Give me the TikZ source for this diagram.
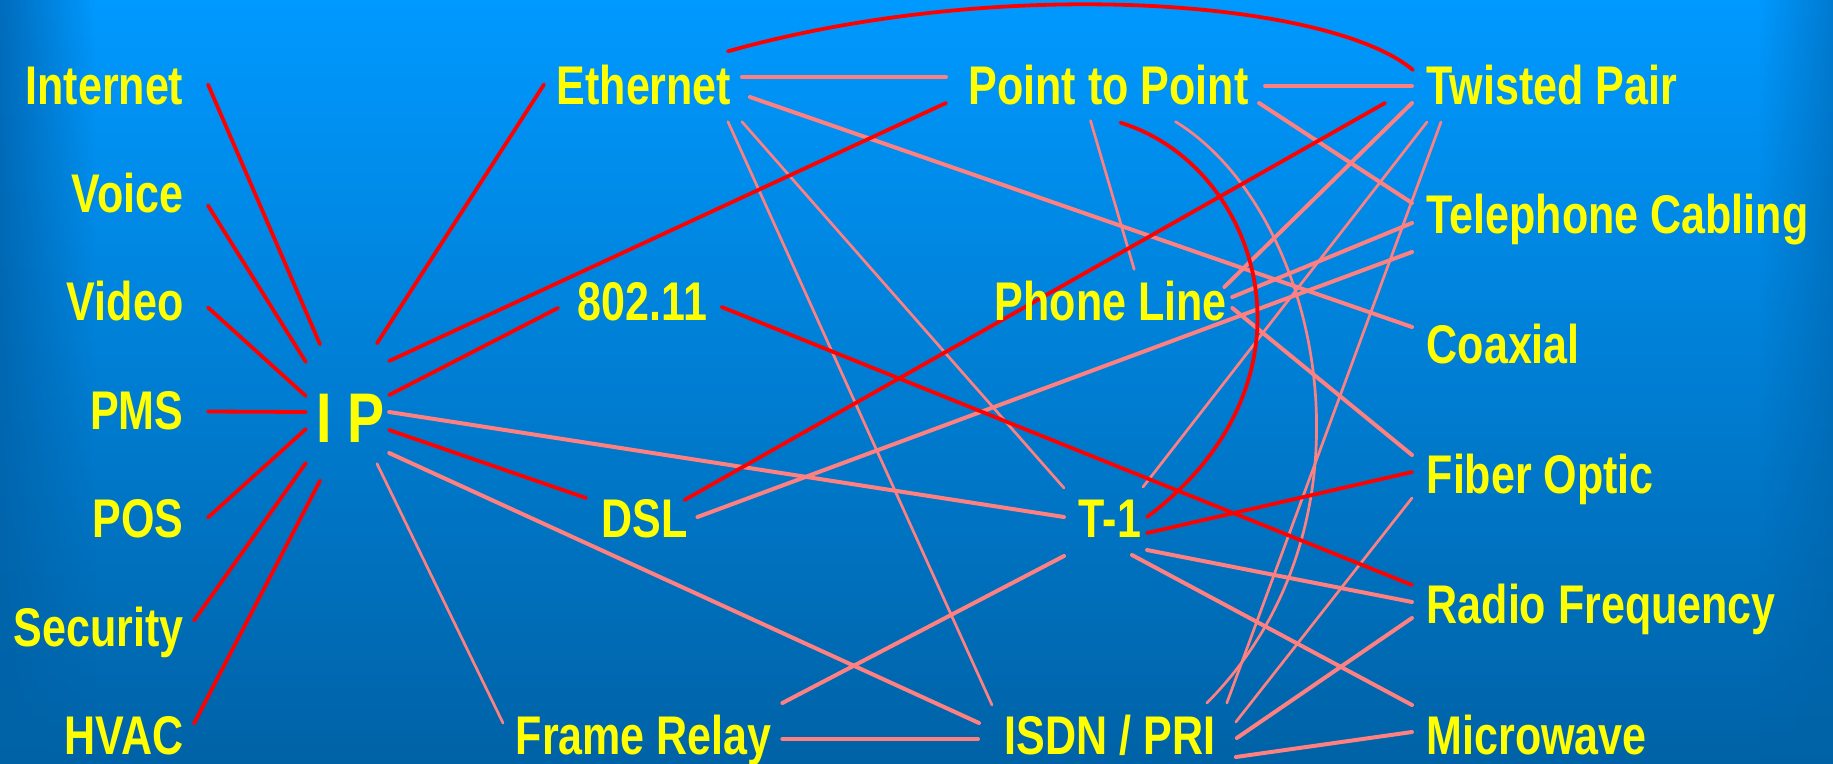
\documentclass[tikz,border=0pt]{standalone}
\usepackage{fontspec}
\setmainfont{Liberation Sans}[FakeStretch=0.79]
\usetikzlibrary{fadings}

\definecolor{bgtop}{RGB}{0,153,255}
\definecolor{bgbottom}{RGB}{0,98,166}
\definecolor{edgeleft}{RGB}{0,108,188}
\definecolor{edgeright}{RGB}{0,122,208}
\definecolor{linkred}{RGB}{255,0,0}
\definecolor{linkpink}{RGB}{255,128,128}
\definecolor{labelyellow}{RGB}{255,255,0}

\tikzfading[name=fadeleft, left color=transparent!0, right color=transparent!100]
\tikzfading[name=faderight, left color=transparent!100, right color=transparent!0]

\pgfdeclarelayer{front}
\pgfsetlayers{main,front}

\begin{document}
\begin{tikzpicture}[x=0.1mm, y=-0.1mm,
  lbl/.style={text=labelyellow, font=\fontsize{15.5pt}{18pt}\selectfont\bfseries,
    inner sep=0pt, text height=3.9mm, text depth=0pt},
  hub/.style={lbl, font=\fontsize{20pt}{24pt}\selectfont\bfseries, text height=5mm},
  redlink/.style={draw=linkred, line width=0.38mm, line cap=round},
  pinkthick/.style={draw=linkpink, line width=0.4mm, line cap=round},
  pinkthin/.style={draw=linkpink, line width=0.27mm, line cap=round}]

% Slide background
\useasboundingbox (0,0) rectangle (1833,764);
\shade[top color=bgtop, bottom color=bgbottom] (0,0) rectangle (1833,764);
\shade[top color=edgeleft, bottom color=bgbottom, path fading=fadeleft] (0,0) rectangle (95,764);
\shade[top color=edgeright, bottom color=bgbottom, path fading=faderight] (1758,0) rectangle (1833,764);

\begin{pgfonlayer}{front}
% Services
\node[lbl, anchor=base east] (Internet) at (184,104) {Internet};
\node[lbl, anchor=base east] (Voice) at (184,212) {Voice};
\node[lbl, anchor=base east] (Video) at (184,320) {Video};
\node[lbl, anchor=base east] (PMS) at (184,429) {PMS};
\node[lbl, anchor=base east] (POS) at (184,537) {POS};
\node[lbl, anchor=base east] (Security) at (184,646) {Security};
\node[lbl, anchor=base east] (HVAC) at (184,754) {HVAC};

\node[hub] (IP) at (350.5,417) {I P};

% Links
\node[lbl, anchor=base west] (Ethernet) at (556,104) {Ethernet};
\node[lbl, anchor=base west] (WLAN) at (577,320) {802.11};
\node[lbl, anchor=base west] (DSL) at (601,537) {DSL};
\node[lbl, anchor=base west] (Frame) at (515,754) {Frame Relay};
\node[lbl, anchor=base west] (PtP) at (968,104) {Point to Point};
\node[lbl, anchor=base west] (Phone) at (994,320) {Phone Line};
\node[lbl, anchor=base] (T1) at (1110,537) {T-1};
\node[lbl, anchor=base west] (ISDN) at (1004,754) {ISDN / PRI};

% Media
\node[lbl, anchor=base west] (Twisted) at (1426,104) {Twisted Pair};
\node[lbl, anchor=base west] (Telco) at (1426,233) {Telephone Cabling};
\node[lbl, anchor=base west] (Coax) at (1426,363) {Coaxial};
\node[lbl, anchor=base west] (Fiber) at (1426,493) {Fiber Optic};
\node[lbl, anchor=base west] (Radio) at (1426,623) {Radio Frequency};
\node[lbl, anchor=base west] (Micro) at (1426,754) {Microwave};
\end{pgfonlayer}

% Pink connections
\draw[pinkthick] ([shift={(4,-5)}]IP.east) -- ([shift={(-46,-0.5)}]T1.center);
\draw[pinkthick] ([shift={(4,36)}]IP.east) -- ([shift={(-25,-11.5)}]ISDN.west);
\draw[pinkthin] ([shift={(26.5,21)}]IP.south) -- ([shift={(-12,-11.5)}]Frame.west);
\draw[pinkthick] ([shift={(10,-7.5)}]Ethernet.east) -- ([shift={(-22,-7.5)}]PtP.west);
\draw[pinkthick] ([shift={(18,12.5)}]Ethernet.east) -- ([shift={(-14,-16.5)}]Coax.west);
\draw[pinkthin] ([shift={(-4,17)}]Ethernet.south east) -- ([shift={(-12,-29.5)}]ISDN.west);
\draw[pinkthin] ([shift={(10,17)}]Ethernet.south east) -- ([shift={(-46,-29.5)}]T1.center);
\draw[pinkthick] ([shift={(9,-0.5)}]DSL.east) -- ([shift={(-14,38.5)}]Telco.west);
\draw[pinkthick] ([shift={(10,4.5)}]Frame.east) -- ([shift={(-26,4.5)}]ISDN.west);
\draw[pinkthick] ([shift={(10,-31.5)}]Frame.east) -- ([shift={(-46,38.5)}]T1.center);
\draw[pinkthick] ([shift={(16,1.5)}]PtP.east) -- ([shift={(-14,1.5)}]Twisted.west);
\draw[pinkthin] ([shift={(-18,16)}]PtP.south) -- ([shift={(23.5,-11)}]Phone.north);
\draw[pinkthin] ([shift={(67,17)}]PtP.south) .. controls +(145,89) and +(182,-183) .. ([shift={(-9,-31.5)}]ISDN.east);
\draw[pinkthick] ([shift={(10,18.5)}]PtP.east) -- ([shift={(-14,-10.5)}]Telco.west);
\draw[pinkthick] ([shift={(-14,18.5)}]Twisted.west) -- ([shift={(-3,-13.5)}]Phone.east);
\draw[pinkthin] ([shift={(1,37.5)}]Twisted.west) -- ([shift={(33,-30.5)}]T1.center);
\draw[pinkthin] ([shift={(15,37.5)}]Twisted.west) -- ([shift={(11,-31.5)}]ISDN.east);
\draw[pinkthick] ([shift={(5,-3.5)}]Phone.east) -- ([shift={(-14,9.5)}]Telco.west);
\draw[pinkthick] ([shift={(5,7.5)}]Phone.east) -- ([shift={(-14,-18.5)}]Fiber.west);
\draw[pinkthick] ([shift={(37,32.5)}]T1.center) -- ([shift={(-14,-1.5)}]Radio.west);
\draw[pinkthick] ([shift={(22,37.5)}]T1.center) -- ([shift={(-14,-29.5)}]Micro.west);
\draw[pinkthin] ([shift={(20,-12.5)}]ISDN.east) -- ([shift={(-14,24.5)}]Fiber.west);
\draw[pinkthick] ([shift={(21,3.5)}]ISDN.east) -- ([shift={(-14,14.5)}]Radio.west);
\draw[pinkthick] ([shift={(20,22.5)}]ISDN.east) -- ([shift={(-14,-2.5)}]Micro.west);

% Red connections
\draw[redlink] ([shift={(24,0)}]Internet.east) -- ([shift={(-30.5,-47)}]IP.north);
\draw[redlink] ([shift={(24,13)}]Voice.east) -- ([shift={(-10,-55)}]IP.west);
\draw[redlink] ([shift={(24,7)}]Video.east) -- ([shift={(-10,-21)}]IP.west);
\draw[redlink] ([shift={(24,2)}]PMS.east) -- ([shift={(-10,-5)}]IP.west);
\draw[redlink] ([shift={(24,0)}]POS.east) -- ([shift={(-10,12)}]IP.west);
\draw[redlink] ([shift={(10,-6)}]Security.east) -- ([shift={(-10,46)}]IP.west);
\draw[redlink] ([shift={(10,-11)}]HVAC.east) -- ([shift={(-30.5,38)}]IP.south);
\draw[redlink] ([shift={(26.5,-48)}]IP.north) -- ([shift={(-12,0)}]Ethernet.west);
\draw[redlink] ([shift={(4,-56)}]IP.east) -- ([shift={(-22,18.5)}]PtP.west);
\draw[redlink] ([shift={(4,-22)}]IP.east) -- ([shift={(-19,7.5)}]WLAN.west);
\draw[redlink] ([shift={(4,13)}]IP.east) -- ([shift={(-15,-19.5)}]DSL.west);
\draw[redlink] ([shift={(-4,-13)}]Ethernet.north east) .. controls +(274,-77) and +(-83,-70) .. ([shift={(-13,-14.5)}]Twisted.west);
\draw[redlink] ([shift={(14,6.5)}]WLAN.east) -- ([shift={(-14,-18.5)}]Radio.west);
\draw[redlink] ([shift={(-4,-17.5)}]DSL.east) -- ([shift={(-41,18.5)}]Twisted.west);
\draw[redlink] ([shift={(12,18)}]PtP.south) .. controls +(140,43) and +(183,-137) .. ([shift={(37,-0.5)}]T1.center);
\draw[redlink] ([shift={(37,15.5)}]T1.center) -- ([shift={(-14,-1.5)}]Fiber.west);
\end{tikzpicture}
\end{document}
